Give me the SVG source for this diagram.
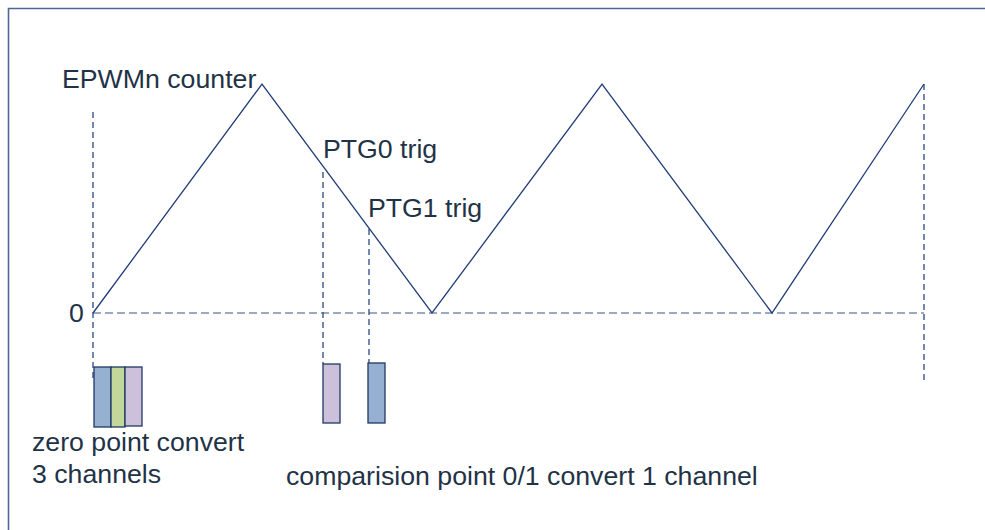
<svg xmlns="http://www.w3.org/2000/svg" width="985" height="530" viewBox="0 0 985 530">
<style>
.t{font-family:"Liberation Sans",Arial,sans-serif;font-size:26.7px;fill:#1f3347}
.wave{fill:none;stroke:#1f3c78;stroke-width:1.3}
.vd{fill:none;stroke:#2a4a80;stroke-width:1.3;stroke-dasharray:6 4}
.hd{fill:none;stroke:#7b8db0;stroke-width:1.6;stroke-dasharray:8 4}
.bar{stroke:#1f3864;stroke-width:1.3}
</style>
<rect x="0" y="0" width="985" height="530" fill="#ffffff"/>
<path d="M8.5,995 V8.5 H995" fill="none" stroke="#4f6595" stroke-width="1.6"/>
<g id="connectors">
<line class="hd" x1="93" y1="313" x2="924" y2="313"/>
<line class="vd" x1="93" y1="112" x2="93" y2="378"/>
<line class="vd" x1="924" y1="84" x2="924" y2="382"/>
<line class="vd" x1="323" y1="172" x2="323" y2="364"/>
<line class="vd" x1="369" y1="229" x2="369" y2="363"/>
<polyline class="wave" points="93,313 262,84 432,313 602,84 772,313 924,84"/>
</g>
<g id="label-counter"><text class="t" x="62" y="88">EPWMn counter</text></g>
<g id="label-zero"><text class="t" x="69" y="322">0</text></g>
<g id="label-ptg0"><text class="t" x="323" y="158">PTG0 trig</text></g>
<g id="label-ptg1"><text class="t" x="368" y="217">PTG1 trig</text></g>
<g id="zero-bars">
<rect class="bar" x="94" y="367" width="17" height="60" fill="#95b0d0"/>
<rect class="bar" x="111" y="367" width="14" height="60" fill="#c4d79b"/>
<rect class="bar" x="125" y="367" width="17" height="59" fill="#ccc0da"/>
</g>
<g id="ptg0-bar"><rect class="bar" x="323" y="364" width="17" height="59" fill="#ccc0da"/></g>
<g id="ptg1-bar"><rect class="bar" x="368" y="363" width="17" height="60" fill="#95b0d0"/></g>
<g id="label-zero-convert">
<text class="t" x="32" y="451">zero point convert</text>
<text class="t" x="32" y="483">3 channels</text>
</g>
<g id="label-compare"><text class="t" x="286" y="485">comparision point 0/1 convert 1 channel</text></g>
</svg>
